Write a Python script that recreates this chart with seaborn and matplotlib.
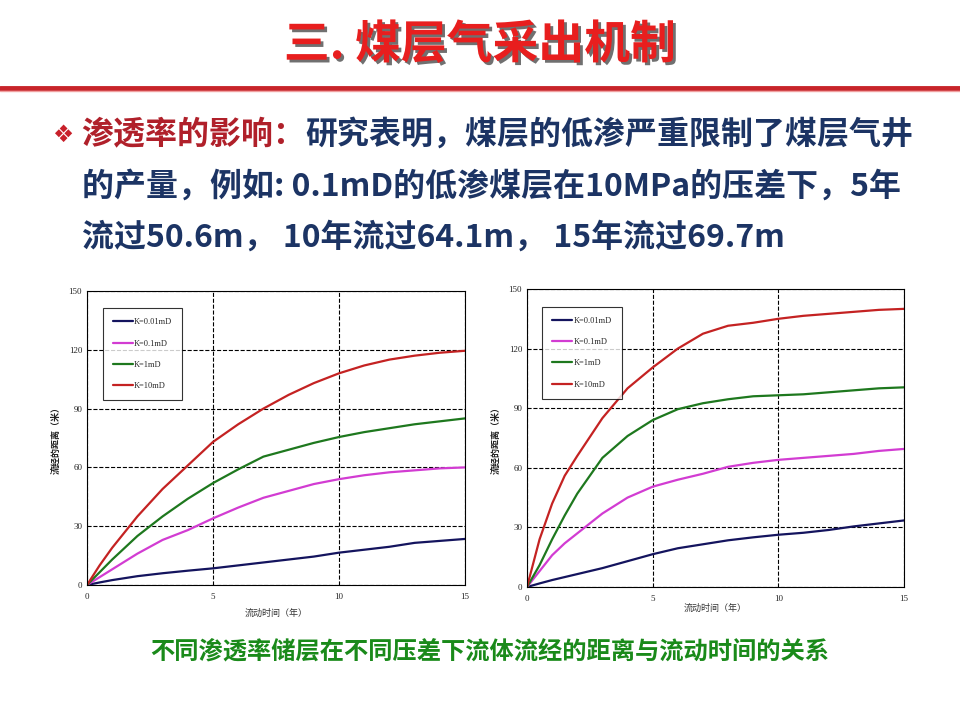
import seaborn as sns
import matplotlib.pyplot as plt
import matplotlib.patheffects as pe
import pandas as pd
from matplotlib.ticker import MultipleLocator

# time in years
t = [0, 0.5, 1, 1.5, 2, 3, 4, 5, 6, 7, 8, 9, 10, 11, 12, 13, 14, 15]
labels = ['K=0.01mD', 'K=0.1mD', 'K=1mD', 'K=10mD']
colors = ['#14145e', '#d23cd2', '#1e781e', '#c42222']

# left chart: distance (m)
left_001 = [0, 1.3, 2.5, 3.5, 4.5, 6, 7.3, 8.5, 10, 11.5, 13, 14.5, 16.5, 18, 19.5, 21.5, 22.5, 23.5]
left_01 = [0, 4, 8, 12, 16, 23, 28, 34, 39.5, 44.5, 48, 51.5, 54, 56, 57.5, 58.5, 59.5, 60]
left_1 = [0, 6.5, 13, 19, 25, 35, 44, 52, 59, 65.5, 69, 72.5, 75.5, 78, 80, 82, 83.5, 85]
left_10 = [0, 10, 19, 27, 35, 49, 61, 73, 82, 90, 97, 103, 108, 112, 115, 117, 118.5, 119.5]

# right chart: distance (m)
right_001 = [0, 1.8, 3.5, 5, 6.5, 9.5, 13, 16.5, 19.5, 21.5, 23.5, 25, 26.3, 27.3, 28.7, 30.5, 32, 33.5]
right_01 = [0, 8, 16, 22, 27, 37, 45, 50.5, 54, 57, 60.5, 62.5, 64, 65, 66, 67, 68.5, 69.5]
right_1 = [0, 11, 24, 36, 47, 65, 76, 84, 89.5, 92.5, 94.5, 96, 96.5, 97, 98, 99, 100, 100.5]
right_10 = [0, 24, 42, 56, 66, 85, 100, 110.5, 120, 127.5, 131.5, 133, 135, 136.5, 137.5, 138.5, 139.5, 140]

sns.set_style('white')
plt.rcParams['font.family'] = ['Noto Sans CJK SC', 'DejaVu Sans']

fig = plt.figure(figsize=(9.6, 7.2), dpi=100)

# header
title = fig.text(0.5, 0.937, '三. 煤层气采出机制', ha='center', va='center',
                 fontsize=33, fontweight='bold', color='#e81e1e')
title.set_path_effects([pe.withSimplePatchShadow(offset=(2, -2), shadow_rgbFace='#333333', alpha=0.7)])
fig.add_artist(plt.Line2D([0, 1], [1 - 88 / 720, 1 - 88 / 720], color='#c8242a', lw=3.5))
fig.add_artist(plt.Line2D([0, 1], [1 - 91 / 720, 1 - 91 / 720], color='#f0a0a0', lw=1))

fig.text(0.065, 1 - 135 / 720, '❖', ha='center', va='center', fontsize=17, color='#c8202a',
         family=['DejaVu Sans'])
fs = 23
t1 = fig.text(0.085, 1 - 135 / 720, '渗透率的影响：', ha='left', va='center', fontsize=fs,
              fontweight='bold', color='#b0202a')
fig.canvas.draw()
bb = t1.get_window_extent()
fig.text(bb.x1 / 960, 1 - 135 / 720, '研究表明，煤层的低渗严重限制了煤层气井', ha='left', va='center',
         fontsize=fs, fontweight='bold', color='#1c3464')
fig.text(0.085, 1 - 187 / 720, '的产量，例如: 0.1mD的低渗煤层在10MPa的压差下，5年', ha='left', va='center',
         fontsize=fs, fontweight='bold', color='#1c3464')
fig.text(0.085, 1 - 238 / 720, '流过50.6m， 10年流过64.1m， 15年流过69.7m', ha='left', va='center',
         fontsize=fs, fontweight='bold', color='#1c3464')

fig.text(0.51, 1 - 652 / 720, '不同渗透率储层在不同压差下流体流经的距离与流动时间的关系', ha='center', va='center',
         fontsize=17.5, fontweight='bold', color='#1a8a1a')


def draw_panel(ax, series, xlabel_y):
    for vals, lab, col in zip(series, labels, colors):
        df = pd.DataFrame({'t': t, 'd': vals})
        sns.lineplot(data=df, x='t', y='d', ax=ax, color=col, lw=1.6, label=lab)
    ax.set_xlim(0, 15)
    ax.set_ylim(0, 150)
    ax.xaxis.set_major_locator(MultipleLocator(5))
    ax.xaxis.set_minor_locator(MultipleLocator(1))
    ax.yaxis.set_major_locator(MultipleLocator(30))
    ax.yaxis.set_minor_locator(MultipleLocator(10))
    ax.tick_params(which='both', direction='in', labelsize=6.5, color='#333333')
    ax.tick_params(which='major', length=3)
    ax.tick_params(which='minor', length=2)
    ax.tick_params(axis='x', pad=6)
    for lbl in ax.get_xticklabels() + ax.get_yticklabels():
        lbl.set_family(['Liberation Serif'])
    ax.grid(True, which='major', color='black', ls='--', lw=0.8)
    for s in ax.spines.values():
        s.set_color('black')
        s.set_linewidth(0.8)
    ax.set_xlabel('流动时间（年）', fontsize=6.5, color='#333333')
    ax.xaxis.set_label_coords(0.5, xlabel_y)
    ax.set_ylabel('流经的距离（米）', fontsize=6.5, fontweight='bold', color='#222222')
    ax.yaxis.set_label_coords(-0.07, 0.5)
    leg = ax.legend(loc='upper left', bbox_to_anchor=(0.03, 0.955), frameon=True,
                    fancybox=False, edgecolor='black', labelspacing=1.6, handlelength=2.4,
                    borderpad=1.2, handletextpad=0.2, prop={'family': 'Liberation Serif', 'size': 6})
    leg.get_frame().set_linewidth(0.8)


ax1 = fig.add_axes([87 / 960, 1 - 585 / 720, 378 / 960, 294 / 720])
draw_panel(ax1, [left_001, left_01, left_1, left_10], -0.08)
ax2 = fig.add_axes([527 / 960, 1 - 587 / 720, 377 / 960, 298 / 720])
draw_panel(ax2, [right_001, right_01, right_1, right_10], -0.055)

fig.savefig('out.png', dpi=100)
